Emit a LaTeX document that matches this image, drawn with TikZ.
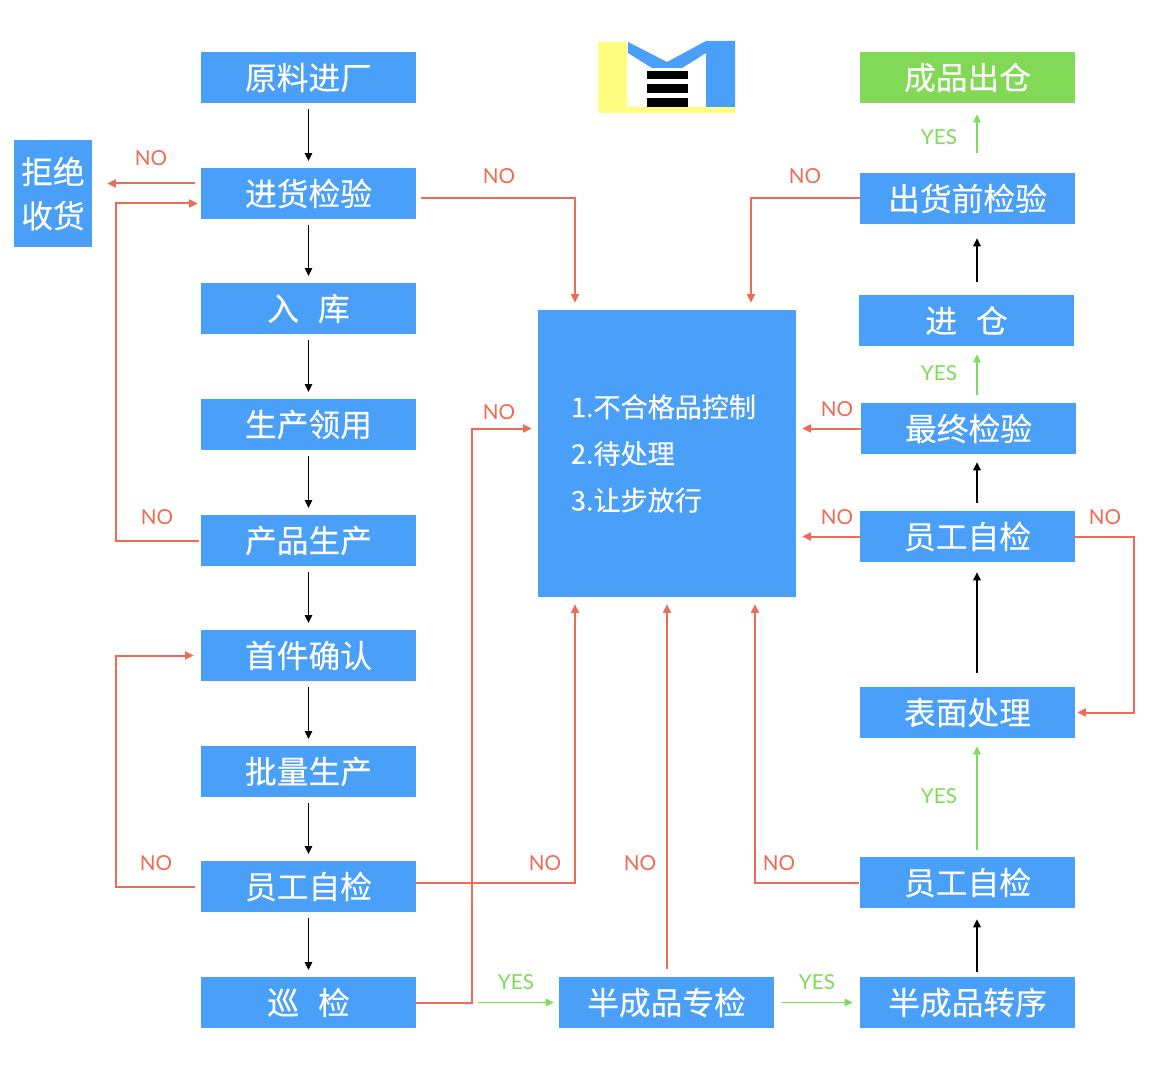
\documentclass[tikz,border=0pt]{standalone}
\usepackage{fontspec}
\setmainfont{Lato}
\newfontfamily\cjk[FakeBold=0.25]{Noto Sans CJK SC}
\usetikzlibrary{arrows.meta}
\definecolor{boxblue}{HTML}{4A9FF9}
\definecolor{nored}{HTML}{EE6C55}
\definecolor{yesgreen}{HTML}{7FDB5A}
\definecolor{boxgreen}{HTML}{82D955}
\definecolor{logoyellow}{HTML}{FFFC7F}
\tikzset{
  stepbox/.style={fill=boxblue,text=white,minimum width=161.25pt,minimum height=38.25pt,inner sep=0pt,font=\cjk\fontsize{23.8}{28}\selectfont},
  donebox/.style={stepbox,fill=boxgreen},
  flowblk/.style={draw=black,line width=1.3pt,-{Triangle[length=6pt,width=5.5pt]}},
  flowno/.style={draw=nored,line width=1.5pt,-{Triangle[length=6.5pt,width=6pt]}},
  flowyes/.style={draw=yesgreen,line width=1.3pt,-{Triangle[length=6pt,width=5.5pt]}},
  nolabel/.style={text=nored,inner sep=0pt,font=\fontsize{15.5}{18}\selectfont},
  yeslabel/.style={text=yesgreen,inner sep=0pt,font=\fontsize{15.5}{18}\selectfont},
}
\begin{document}
\begin{tikzpicture}[x=0.75pt,y=-0.75pt]
\useasboundingbox (0,0) rectangle (1170,1080);
\fill[white] (0,0) rectangle (1170,1080);
% logo
\fill[logoyellow] (598,42) -- (627,42) -- (627,107) -- (735,107) -- (735,113) -- (598,113) -- cycle;
\fill[boxblue] (628,42) -- (667,62) -- (706,41) -- (735,41) -- (735,107) -- (706,107) -- (706,53) -- (682,68) -- (652,68) -- (628,53) -- cycle;
\fill[black] (647,71) rectangle (688,79);
\fill[black] (647,84) rectangle (688,93);
\fill[black] (647,98) rectangle (688,107);
% left column
\node[stepbox] (a1) at (308.5,77.5) {原料进厂};
\node[stepbox] (a2) at (308.5,193.5) {进货检验};
\node[stepbox] (a3) at (308.5,308.5) {入\hspace{0.6em}库};
\node[stepbox] (a4) at (308.5,424.5) {生产领用};
\node[stepbox] (a5) at (308.5,540.5) {产品生产};
\node[stepbox] (a6) at (308.5,655.5) {首件确认};
\node[stepbox] (a7) at (308.5,771.5) {批量生产};
\node[stepbox] (a8) at (308.5,886.5) {员工自检};
\node[stepbox] (a9) at (308.5,1002.5) {巡\hspace{0.6em}检};
% reject
\node[stepbox,minimum width=58.5pt,minimum height=80.25pt,align=center,font=\cjk\fontsize{23.8}{33}\selectfont] (rej) at (53,193.5) {拒绝\\收货};
% centre
\node[fill=boxblue,text=white,minimum height=215.25pt,text width=144pt,inner xsep=24.75pt,inner ysep=0pt,align=left,font=\cjk\fontsize{20.3}{35}\selectfont] (ctl) at (667,453.5) {1.不合格品控制\\2.待处理\\3.让步放行};
% bottom middle
\node[stepbox] (m1) at (666.5,1002.5) {半成品专检};
% right column
\node[donebox] (r1) at (967.5,77.5) {成品出仓};
\node[stepbox] (r2) at (967.5,198.5) {出货前检验};
\node[stepbox] (r3) at (966.5,320.5) {进\hspace{0.6em}仓};
\node[stepbox] (r4) at (968.5,428.5) {最终检验};
\node[stepbox] (r5) at (967.5,536.5) {员工自检};
\node[stepbox] (r6) at (967.5,712.5) {表面处理};
\node[stepbox] (r7) at (967.5,882.5) {员工自检};
\node[stepbox] (r8) at (967.5,1002.5) {半成品转序};
% black flow, left
\foreach \p/\q in {a1/a2,a2/a3,a3/a4,a4/a5,a5/a6,a6/a7,a7/a8,a8/a9}
  \draw[flowblk,shorten <=4.5pt,shorten >=5pt] (\p.south) -- (\q.north);
% black flow, right
\draw[flowblk] ([shift={(9.5,-5)}]r8.north) -- ([shift={(9.5,11)}]r7.south);
\draw[flowblk] ([shift={(9.5,-14)}]r6.north) -- ([shift={(9.5,10)}]r5.south);
\draw[flowblk] ([shift={(8.5,-8)}]r5.north -| r4.north) -- ([shift={(8.5,8)}]r4.south);
\draw[flowblk] ([shift={(10.5,-13)}]r3.north) -- ([shift={(9.5,14)}]r2.south);
% green flow
\draw[flowyes] ([shift={(62,0)}]a9.east) -- ([shift={(-5,0)}]m1.west);
\draw[flowyes] ([shift={(7,0)}]m1.east) -- ([shift={(-7,0)}]r8.west);
\draw[flowyes] ([shift={(9.5,-7)}]r7.north) -- ([shift={(9.5,8)}]r6.south);
\draw[flowyes] ([shift={(8.5,-8)}]r4.north) -- ([shift={(10.5,8)}]r3.south);
\draw[flowyes] ([shift={(9.5,-20)}]r2.north) -- ([shift={(9.5,11)}]r1.south);
% red flow
\draw[flowno] ([shift={(-6,-10)}]a2.west) -- ([shift={(15,-10)}]rej.east);
\draw[flowno] ([shift={(5,5)}]a2.east) -| ([shift={(-92,-7)}]ctl.north);
\draw[flowno] (r2.west) -| ([shift={(84,-7)}]ctl.north);
\draw[flowno] ([shift={(-2,0)}]a5.west) -- ++(-83,0) |- ([shift={(-3,10)}]a2.west);
\draw[flowno] ([shift={(-6,0)}]a8.west) -- ++(-79,0) |- ([shift={(-7,0)}]a6.west);
\draw[flowno] ([shift={(0,-4)}]a8.east) -| ([shift={(-92,7)}]ctl.south);
\draw[flowno] (a9.east) -- ++(56,0) |- ([shift={(-6,-25)}]ctl.west);
\draw[flowno] ([shift={(0.5,-8)}]m1.north) -- ([shift={(0,7)}]ctl.south);
\draw[flowno] ([shift={(-1,0)}]r7.west) -| ([shift={(88,7)}]ctl.south);
\draw[flowno] (r4.west) -- ([shift={(6,-25)}]ctl.east);
\draw[flowno] (r5.west) -- ([shift={(6,83)}]ctl.east);
\draw[flowno] (r5.east) -- ++(59,0) |- ([shift={(2,0)}]r6.east);
% labels
\node[nolabel] (n1) at (151,158) {NO};
\node[nolabel] (n2) at (499,176) {NO};
\node[nolabel] (n3) at (805,176) {NO};
\node[nolabel] (n4) at (157,517) {NO};
\node[nolabel] (n5) at (499,412) {NO};
\node[nolabel] (n6) at (837,409) {NO};
\node[nolabel] (n7) at (837,517) {NO};
\node[nolabel] (n8) at (1105,517) {NO};
\node[nolabel] (n9) at (156,863) {NO};
\node[nolabel] (n10) at (545,863) {NO};
\node[nolabel] (n11) at (640,863) {NO};
\node[nolabel] (n12) at (779,863) {NO};
\node[yeslabel] (y1) at (939,137) {YES};
\node[yeslabel] (y2) at (939,373) {YES};
\node[yeslabel] (y3) at (939,796) {YES};
\node[yeslabel] (y4) at (516,982) {YES};
\node[yeslabel] (y5) at (817,982) {YES};
\end{tikzpicture}
\end{document}
